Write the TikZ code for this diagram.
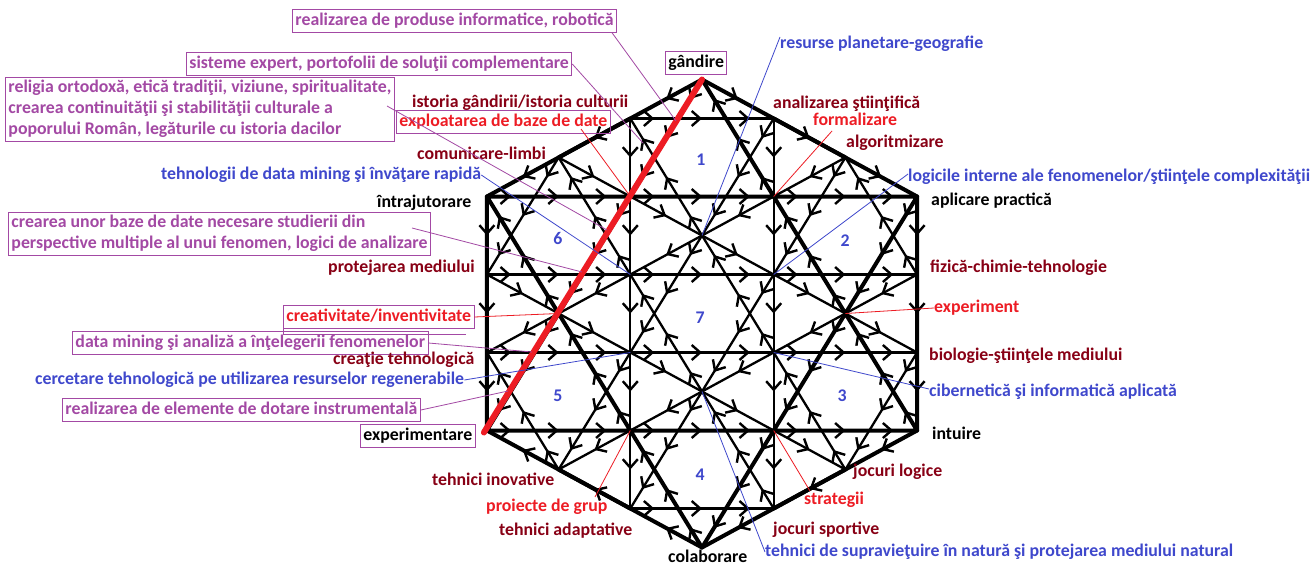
\documentclass[tikz,border=0pt]{standalone}
\usepackage{fontspec}
\setmainfont{Carlito}
\usetikzlibrary{arrows.meta,decorations.markings}
\definecolor{dred}{RGB}{136,0,21}
\definecolor{pred}{RGB}{237,28,36}
\definecolor{pblue}{RGB}{63,72,204}
\definecolor{ppurp}{RGB}{163,73,164}
\tikzset{
  chev/.tip={Straight Barb[length=8.5pt,width=15pt,line width=2.4pt]},
  mk/.style={postaction={decorate,decoration={markings,mark=at position 0.5 with {\arrow{chev}}}}},
  mkr/.style={postaction={decorate,decoration={markings,mark=at position 0.5 with {\arrowreversed{chev}}}}},
  mkt/.style={postaction={decorate,decoration={markings,mark=at position 0.1667 with {\arrow{chev}},mark=at position 0.5 with {\arrow{chev}},mark=at position 0.8333 with {\arrow{chev}}}}},
  thinl/.style={line width=2.3pt,line cap=round},
  thickl/.style={line width=4pt,line cap=round,line join=round},
  lbl/.style={font=\bfseries\fontsize{17.8}{21}\selectfont,inner sep=0pt,anchor=west,text height=12.5pt,text depth=4pt},
  bx/.style={draw=ppurp,line width=0.9pt,inner sep=3pt},
  mlbl/.style={font=\bfseries\fontsize{17.8}{21}\selectfont,inner sep=3pt,anchor=north west,align=left,draw=ppurp,line width=0.9pt,text=ppurp},
  num/.style={font=\bfseries\fontsize{17.8}{21}\selectfont,text=pblue,inner sep=0pt},
  conn/.style={line width=0.8pt},
}
\newcommand\hexcell[3]{%
  \pgfmathtruncatemacro\hxL{#1-1}%
  \pgfmathtruncatemacro\hxR{#1+1}%
  \pgfmathtruncatemacro\hyT{#2+2}%
  \pgfmathtruncatemacro\hyU{#2+1}%
  \pgfmathtruncatemacro\hyD{#2-1}%
  \pgfmathtruncatemacro\hyB{#2-2}%
  \draw[thinl,mk] (p#1y\hyT) -- (p\hxL y\hyU);
  \draw[thinl,mk] (p\hxL y\hyU) -- (p\hxL y\hyD);
  \draw[thinl,#3] (p\hxL y\hyD) -- (p#1y\hyB);
  \draw[thinl,mk] (p#1y\hyT) -- (p\hxR y\hyU);
  \draw[thinl,mk] (p\hxR y\hyU) -- (p\hxR y\hyD);
  \draw[thinl,mk] (p\hxR y\hyD) -- (p#1y\hyB);
  \draw[thinl,mkt] (p#1y\hyT) -- (p\hxL y\hyD);
  \draw[thinl,mkt] (p\hxL y\hyD) -- (p\hxR y\hyD);
  \draw[thinl,mkt] (p\hxR y\hyD) -- (p#1y\hyT);
  \draw[thinl,mkt] (p#1y\hyB) -- (p\hxL y\hyU);
  \draw[thinl,mkt] (p\hxL y\hyU) -- (p\hxR y\hyU);
  \draw[thinl,mkt] (p\hxR y\hyU) -- (p#1y\hyB);
}
\begin{document}
\begin{tikzpicture}[x=1pt,y=-1pt]
\useasboundingbox[fill=white] (0,0) rectangle (1316,567);
\foreach \u in {-3,...,3}{\foreach \v in {-6,...,6}{\coordinate (p\u y\v) at ({702+71.7*\u},{313.5-39*\v});}}
% outer hexagon and big star
\draw[thickl] (p0y6) -- (p-3y3) -- (p-3y-3) -- (p0y-6) -- (p3y-3) -- (p3y3) -- cycle;
\draw[thickl] (p0y6) -- (p-3y-3) (p0y6) -- (p3y-3) (p-3y-3) -- (p3y-3)
  (p0y-6) -- (p-3y3) (p0y-6) -- (p3y3) (p-3y3) -- (p3y3);
\draw[thickl,mk] (p-1y5) -- (p-2y4);
\draw[thickl,mk] (p1y5) -- (p2y4);
\draw[thickl,mk] (p-3y1) -- (p-3y-1);
\draw[thickl,mk] (p3y1) -- (p3y-1);
\draw[thickl,mk] (p-1y-5) -- (p-2y-4);
\draw[thickl,mk] (p2y-4) -- (p1y-5);
% seven cells
\hexcell{0}{4}{mk}
\hexcell{2}{2}{mk}
\hexcell{2}{-2}{mk}
\hexcell{0}{-4}{mkr}
\hexcell{-2}{-2}{mkr}
\hexcell{-2}{2}{mk}
\hexcell{0}{0}{mk}
% red line
\draw[pred,line width=6pt,line cap=round] (p0y6) -- ([shift={(-3pt,-2pt)}]p-3y-3);
% numbers
\node[num] (n1) at (701,160) {1};
\node[num] (n2) at (845,241) {2};
\node[num] (n3) at (842,396) {3};
\node[num] (n4) at (700,475) {4};
\node[num] (n5) at (558,396) {5};
\node[num] (n6) at (558,238) {6};
\node[num] (n7) at (700,318) {7};
% labels
\node[lbl,bx,text=ppurp] (l1) at (292,21) {realizarea de produse informatice, robotică};
\node[lbl,bx,text=ppurp] (l2) at (186,64) {sisteme expert, portofolii de soluţii complementare};
\node[mlbl] (l3) at (5,77) {religia ortodoxă, etică tradiţii, viziune, spiritualitate,\\crearea continuităţii şi stabilităţii culturale a\\poporului Român, legăturile cu istoria dacilor};
\node[lbl,text=dred] (l4) at (412,103) {istoria gândirii/istoria culturii};
\node[lbl,bx,text=pred] (l5) at (396,122) {exploatarea de baze de date};
\node[lbl,text=dred] (l6) at (417,155) {comunicare-limbi};
\node[lbl,text=pblue] (l7) at (161,175) {tehnologii de data mining şi învăţare rapidă};
\node[lbl] (l8) at (377,203) {întrajutorare};
\node[mlbl] (l9) at (8,212) {crearea unor baze de date necesare studierii din\\perspective multiple al unui fenomen, logici de analizare};
\node[lbl,text=dred] (l10) at (328,268) {protejarea mediului};
\node[lbl,bx,text=pred] (l11) at (283,317) {creativitate/inventivitate};
\node[lbl,bx,text=ppurp] (l12) at (72,343) {data mining şi analiză a înţelegerii fenomenelor};
\node[lbl,text=dred] (l13) at (333,360) {creaţie tehnologică};
\node[lbl,text=pblue] (l14) at (35,380) {cercetare tehnologică pe utilizarea resurselor regenerabile};
\node[lbl,bx,text=ppurp] (l15) at (62,410) {realizarea de elemente de dotare instrumentală};
\node[lbl,bx] (l16) at (360,436) {experimentare};
\node[lbl,bx] (l17) at (665,63) {gândire};
\node[lbl,text=pblue] (l18) at (780,44) {resurse planetare-geografie};
\node[lbl,text=dred] (l19) at (773,104) {analizarea ştiinţifică};
\node[lbl,text=pred] (l20) at (813,121) {formalizare};
\node[lbl,text=dred] (l21) at (846,143) {algoritmizare};
\node[lbl,text=pblue] (l22) at (908,177) {logicile interne ale fenomenelor/ştiinţele complexităţii};
\node[lbl] (l23) at (931,201) {aplicare practică};
\node[lbl,text=dred] (l24) at (930,268) {fizică-chimie-tehnologie};
\node[lbl,text=pred] (l25) at (934,308) {experiment};
\node[lbl,text=dred] (l26) at (929,356) {biologie-ştiinţele mediului};
\node[lbl,text=pblue] (l27) at (929,392) {cibernetică şi informatică aplicată};
\node[lbl] (l28) at (932,435) {intuire};
\node[lbl,text=dred] (l29) at (853,472) {jocuri logice};
\node[lbl,text=pred] (l30) at (804,500) {strategii};
\node[lbl,text=dred] (l31) at (773,530) {jocuri sportive};
\node[lbl,text=pblue] (l32) at (765,552) {tehnici de supravieţuire în natură şi protejarea mediului natural};
\node[lbl] (l33) at (668,558) {colaborare};
\node[lbl,text=dred] (l34) at (432,481) {tehnici inovative};
\node[lbl,text=pred] (l35) at (486,507) {proiecte de grup};
\node[lbl,text=dred] (l36) at (499,531) {tehnici adaptative};
% connector end points
\coordinate (c1) at (676,121);
\coordinate (c2) at (643,143);
\coordinate (c3s) at (387,106);
\coordinate (c3) at (607,230);
\coordinate (c5s) at (581,129);
\coordinate (c9s) at (412,228);
\coordinate (c9) at (582,272);
\coordinate (c12) at (532,352);
\coordinate (c15) at (508,391);
\coordinate (c20s) at (832,131);
\coordinate (c30s) at (810,491);
\coordinate (c35s) at (595,497);
% connectors
\draw[conn,ppurp] ([xshift=-5pt]l1.south east) -- (c1);
\draw[conn,ppurp] (l2.east) -- (c2);
\draw[conn,ppurp] (c3s) -- (c3);
\draw[conn,pred] (c5s) -- (p-1y3);
\draw[conn,pblue] (l7.east) -- (p-1y1);
\draw[conn,ppurp] (c9s) -- (c9);
\draw[conn,pred] (l11.east) -- (p-2y0);
\draw[conn,ppurp] (l11.south west) -- ++(0,6) -- ++(183,0);
\draw[conn,ppurp] (l12.east) -- (c12);
\draw[conn,pblue] (l14.east) -- (p-1y-1);
\draw[conn,ppurp] (l15.east) -- (c15);
\draw[conn,pblue] ([yshift=7pt]l18.west) -- (p0y2);
\draw[conn,pred] (c20s) -- (p1y3);
\draw[conn,pblue] ([yshift=3pt]l22.west) -- (p1y1);
\draw[conn,pred] (l25.west) -- (p2y0);
\draw[conn,pblue] ([yshift=3pt]l27.west) -- (p1y-1);
\draw[conn,pred] (c30s) -- (p1y-3);
\draw[conn,pblue] (l32.west) -- (p0y-2);
\draw[conn,pred] (c35s) -- (p-1y-3);
\end{tikzpicture}
\end{document}
